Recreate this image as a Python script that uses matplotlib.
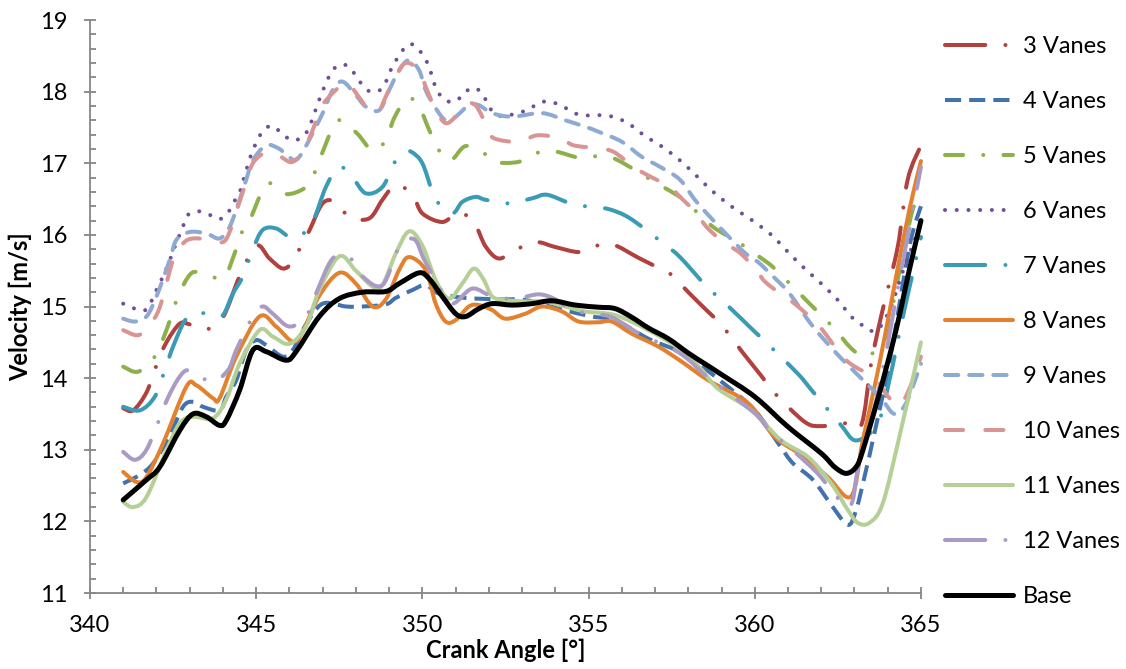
import numpy as np
import matplotlib
matplotlib.use('Agg')
import matplotlib.pyplot as plt
from matplotlib.path import Path
from matplotlib.patches import PathPatch
from matplotlib.lines import Line2D
from matplotlib.ticker import MultipleLocator

plt.rcParams['font.family'] = ['Lato', 'DejaVu Sans']

# series names
labels = ['3 Vanes', '4 Vanes', '5 Vanes', '6 Vanes', '7 Vanes', '8 Vanes',
          '9 Vanes', '10 Vanes', '11 Vanes', '12 Vanes', 'Base']

# crank angle / velocity readings, one pair per series
x3 = [341, 341.3, 341.7, 342, 342.3, 342.7, 343, 343.5, 344, 344.5, 345, 345.4, 345.8, 346.1, 346.3, 346.6,
      347, 347.4, 347.8, 348.4, 348.8, 349.2, 349.7, 350, 350.6, 351, 351.3, 351.6, 351.9, 352.3, 352.8,
      353.4, 354, 354.7, 355.1, 355.7, 356.5, 357.1, 357.5, 358, 358.5, 359, 359.7, 360.2, 360.6, 361.5,
      362, 362.7, 363.2, 363.5, 363.8, 364.3, 364.6, 365]
v3 = [13.58, 13.55, 13.8, 14.18, 14.5, 14.76, 14.75, 14.68, 14.85, 15.42, 15.85, 15.67, 15.53, 15.62, 15.8, 16.06,
      16.44, 16.46, 16.25, 16.23, 16.49, 16.7, 16.56, 16.3, 16.18, 16.3, 16.28, 16.14, 15.84, 15.67, 15.79,
      15.9, 15.83, 15.76, 15.83, 15.87, 15.68, 15.54, 15.44, 15.2, 14.97, 14.74, 14.32, 14.03, 13.79, 13.39,
      13.33, 13.37, 13.34, 14.2, 14.86, 15.83, 16.77, 17.25]

x4 = [341, 341.5, 341.9, 342.4, 342.8, 343.1, 343.4, 343.9, 344.1, 344.4, 344.7, 345, 345.3, 345.8, 346.1,
      346.5, 347, 347.7, 348.2, 348.9, 349.2, 349.7, 350.1, 350.5, 351.3, 352.3, 353.1, 354.1, 355.1, 355.8,
      356.8, 357.9, 359, 360, 360.75, 361.15, 361.75, 362.35, 362.8, 363.05, 363.35, 363.55, 364.05, 364.65, 365]
v4 = [12.53, 12.65, 12.81, 13.2, 13.6, 13.67, 13.6, 13.55, 13.74, 13.97, 14.39, 14.53, 14.46, 14.3, 14.39,
      14.75, 15.04, 15.0, 15.0, 15.03, 15.12, 15.23, 15.3, 15.18, 15.12, 15.1, 15.09, 14.97, 14.86, 14.81,
      14.55, 14.33, 13.95, 13.55, 13.06, 12.81, 12.58, 12.2, 11.95, 12.16, 12.72, 13.13, 14.21, 15.83, 16.4]

x5 = [341, 341.45, 341.95, 342.3, 342.65, 343, 343.3, 344, 344.35, 344.6, 344.8, 345.2, 345.45, 345.9, 346.45,
      346.7, 346.95, 347.3, 347.55, 348.05, 348.5, 348.9, 349.15, 349.55, 349.9, 350.2, 350.5, 350.85, 351.3,
      351.85, 352.15, 352.9, 353.55, 354.05, 354.7, 355.35, 355.85, 357.05, 357.75, 358.05, 358.75, 359.5,
      360.15, 360.55, 361.05, 361.65, 362.4, 362.85, 363.25, 363.55, 363.95, 364.3, 364.75, 365]
v5 = [14.16, 14.09, 14.3, 14.67, 15.14, 15.44, 15.48, 15.4, 15.74, 16.07, 16.2, 16.63, 16.72, 16.57, 16.65,
      16.81, 17.1, 17.49, 17.6, 17.41, 17.18, 17.32, 17.63, 17.91, 17.79, 17.47, 17.18, 17.04, 17.24,
      17.14, 17.02, 17.02, 17.16, 17.16, 17.08, 17.1, 17.05, 16.72, 16.53, 16.41, 16.11, 15.9,
      15.69, 15.55, 15.32, 15.04, 14.69, 14.44, 14.3, 14.35, 14.58, 15.37, 16.35, 16.45]

x6 = [341, 341.35, 341.7, 342, 342.3, 342.55, 342.8, 342.95, 343.25, 343.6, 343.9, 344.15, 344.3, 344.5, 344.7,
      344.9, 345.2, 345.5, 345.8, 346.1, 346.4, 346.6, 346.95, 347.25, 347.5, 347.8, 348.2, 348.45, 348.8,
      349.1, 349.5, 349.75, 350, 350.2, 350.35, 350.55, 350.8, 351.05, 351.3, 351.6, 351.85, 352, 352.25,
      352.55, 352.9, 353.25, 353.55, 353.85, 354.2, 354.5, 354.8, 355.45, 355.8, 356.1, 356.4, 356.7, 357.25,
      357.8, 358.3, 358.8, 359.35, 359.9, 360.5, 361, 361.5, 362, 362.5, 362.9, 363.2, 363.5, 363.75, 364.1,
      364.5, 365]
v6 = [15.04, 14.97, 14.96, 15.23, 15.53, 15.83, 16.12, 16.28, 16.33, 16.28, 16.22, 16.31, 16.44, 16.59, 16.9,
      17.18, 17.45, 17.52, 17.4, 17.32, 17.37, 17.51, 17.95, 18.26, 18.37, 18.34, 18.09, 18.0, 18.05,
      18.35, 18.63, 18.65, 18.52, 18.35, 18.12, 17.94, 17.86, 17.88, 18.0, 18.05, 17.93, 17.79, 17.67,
      17.67, 17.7, 17.77, 17.85, 17.86, 17.8, 17.72, 17.67, 17.67, 17.64, 17.58, 17.49, 17.38, 17.22,
      17.02, 16.8, 16.58, 16.38, 16.21, 16.0, 15.76, 15.53, 15.32, 15.09, 14.86, 14.75, 14.66, 14.7, 15.0,
      15.55, 16.15]

x7 = [341, 341.5, 341.95, 342.25, 342.5, 342.85, 343.15, 343.7, 344, 344.3, 344.6, 344.9, 345.2, 345.6, 346,
      346.3, 346.7, 347.1, 347.5, 347.9, 348.3, 348.8, 349.2, 349.5, 349.7, 350, 350.3, 350.45, 350.9, 351.2,
      351.6, 351.9, 352.6, 353.3, 353.75, 354.45, 355.05, 355.6, 356.25, 357.25, 357.75, 358.55, 359.1,
      359.95, 360.45, 361.3, 361.75, 362.55, 363.05, 363.7, 364.05, 364.5, 365]
v7 = [13.6, 13.55, 13.74, 14.11, 14.44, 14.8, 14.9, 14.9, 14.88, 15.18, 15.42, 15.8, 16.07, 16.09, 15.97,
      15.98, 16.18, 16.67, 16.95, 16.8, 16.58, 16.67, 17.04, 17.16, 17.15, 17.0, 16.6, 16.46, 16.3, 16.46,
      16.53, 16.49, 16.44, 16.51, 16.56, 16.44, 16.39, 16.36, 16.23, 15.88, 15.69, 15.28, 15.05,
      14.67, 14.45, 14.06, 13.81, 13.37, 13.13, 13.37, 13.97, 14.95, 15.97]

x8 = [341, 341.4, 341.7, 342.2, 342.9, 343.2, 343.7, 343.9, 344.4, 345.1, 345.6, 346.1, 346.4, 346.9, 347.5,
      348, 348.5, 348.9, 349.3, 349.6, 350.1, 350.4, 350.7, 351, 351.4, 351.7, 352.1, 352.5, 353.1, 353.6,
      354.2, 354.7, 355.3, 355.7, 356.3, 357.1, 357.8, 358.6, 359.8, 360.6, 361.5, 362.2, 362.9, 363.25,
      363.75, 364.25, 364.65, 365]
v8 = [12.69, 12.55, 12.62, 13.09, 13.88, 13.9, 13.72, 13.72, 14.3, 14.86, 14.72, 14.51, 14.65, 15.15, 15.47,
      15.32, 15.0, 15.1, 15.51, 15.69, 15.51, 15.04, 14.79, 14.81, 15.0, 15.02, 14.95, 14.83, 14.9, 15.0,
      14.93, 14.79, 14.78, 14.79, 14.62, 14.44, 14.23, 13.97, 13.65, 13.18, 12.9, 12.62, 12.35, 13.13,
      14.2, 15.41, 16.35, 17.03]

x9 = [341, 341.35, 341.7, 342, 342.4, 342.6, 343, 343.5, 343.9, 344.2, 344.5, 344.7, 344.9, 345.3, 345.7, 346,
      346.3, 346.95, 347.3, 347.6, 348, 348.3, 348.7, 349, 349.3, 349.6, 349.9, 350.1, 350.4, 350.7, 351,
      351.4, 351.7, 352.1, 352.7, 353.6, 354.3, 354.9, 355.3, 356, 356.6, 357.15, 357.75, 358.25, 359,
      359.7, 360.1, 360.55, 361.05, 361.7, 362.35, 362.85, 363.35, 363.8, 364.2, 364.55, 365]
v9 = [14.83, 14.79, 14.86, 15.14, 15.65, 15.93, 16.04, 16.02, 15.95, 16.11, 16.49, 16.77, 17.04, 17.25, 17.2, 17.08,
      17.09, 17.65, 18.02, 18.14, 17.95, 17.79, 17.74, 18.02, 18.3, 18.44, 18.3, 18.02, 17.77, 17.6, 17.65,
      17.81, 17.81, 17.7, 17.65, 17.7, 17.6, 17.51, 17.44, 17.3, 17.09, 16.95, 16.77, 16.46, 16.08,
      15.75, 15.62, 15.42, 15.18, 14.75, 14.4, 14.16, 13.93, 13.72, 13.5, 13.65, 14.2]

x10 = [341, 341.45, 341.8, 342.1, 342.5, 342.8, 343.1, 343.6, 344, 344.2, 344.45, 344.65, 344.9, 345.3, 345.7,
       346.1, 346.5, 346.9, 347.1, 347.7, 348.05, 348.4, 348.7, 348.9, 349.2, 349.5, 349.9, 350.1, 350.4,
       350.7, 351, 351.3, 351.6, 351.95, 352.15, 352.9, 353.45, 354.15, 354.55, 355.25, 355.75, 356.35,
       356.75, 357.45, 357.75, 358.25, 358.55, 359.05, 359.55, 360.05, 360.3, 360.85, 361.25, 361.95,
       362.75, 363.6, 364, 364.35, 364.65, 365]
v10 = [14.67, 14.6, 14.75, 14.99, 15.65, 15.88, 15.95, 15.93, 15.9, 16.04, 16.39, 16.67, 17.0, 17.15, 17.1,
       17.02, 17.25, 17.7, 17.88, 18.12, 17.95, 17.74, 17.74, 17.93, 18.21, 18.4, 18.3, 18.07, 17.74,
       17.56, 17.65, 17.81, 17.81, 17.51, 17.35, 17.3, 17.39, 17.35, 17.25, 17.21, 17.16, 16.95,
       16.84, 16.67, 16.53, 16.3, 16.11, 15.9, 15.75, 15.51, 15.35, 15.15, 15.02, 14.72,
       14.25, 14.0, 13.75, 13.62, 13.85, 14.3]

x11 = [341, 341.3, 341.7, 342.3, 342.7, 343.1, 343.7, 344.1, 344.5, 345.1, 345.5, 346, 346.5, 346.9, 347.5,
       348, 348.5, 348.8, 349.2, 349.6, 350, 350.4, 350.8, 351.2, 351.55, 351.85, 352.1, 352.5, 353.1,
       353.7, 354.3, 354.9, 355.8, 356.8, 357.8, 358.4, 358.9, 359.9, 360.8, 361.6, 362.3, 362.8, 363.1,
       363.45, 363.85, 364.35, 365]
v11 = [12.27, 12.2, 12.34, 12.99, 13.37, 13.46, 13.44, 13.7, 14.2, 14.67, 14.58, 14.48, 14.72, 15.23, 15.7,
       15.5, 15.28, 15.3, 15.74, 16.05, 15.85, 15.37, 15.11, 15.32, 15.53, 15.37, 15.14, 15.09, 15.07,
       15.07, 15.0, 14.93, 14.88, 14.67, 14.39, 14.12, 13.85, 13.55, 13.13, 12.9, 12.53, 12.16, 11.98,
       11.98, 12.25, 13.18, 14.5]

x12 = [341, 341.35, 341.7, 342.1, 342.35, 342.7, 343, 343.65, 344.15, 344.4, 344.9, 345.2, 345.5, 346, 346.5,
       346.8, 347.3, 347.8, 348.2, 348.8, 349.3, 349.75, 350.05, 350.5, 350.9, 351.5, 352.1, 352.8, 353.5,
       354, 354.5, 355.1, 355.7, 356.6, 357.4, 357.95, 358.55, 358.95, 360, 360.45, 361.15, 361.85, 362.3,
       362.75, 362.95, 363.15, 363.75, 364.35, 365]
v12 = [12.97, 12.86, 13.0, 13.44, 13.73, 14.02, 14.11, 13.95, 14.11, 14.39, 14.86, 15.0, 14.9, 14.72, 14.86,
       15.18, 15.67, 15.69, 15.42, 15.3, 15.83, 15.94, 15.66, 15.28, 15.04, 15.25, 15.14, 15.11, 15.17,
       15.1, 14.95, 14.9, 14.85, 14.6, 14.44, 14.28, 14.02, 13.88, 13.51, 13.27, 12.99, 12.69, 12.44,
       12.2, 12.3, 12.85, 13.88, 15.37, 16.95]

x_base = [341, 341.7, 342.1, 342.7, 343.1, 343.5, 343.9, 344.1, 344.5, 344.9, 345.3, 345.9, 346.2, 346.9, 347.5,
          348.2, 348.9, 349.3, 349.9, 350.2, 350.6, 351, 351.3, 351.7, 352.1, 352.7, 353.3, 353.9, 354.6,
          355.3, 355.8, 356.3, 356.8, 357.4, 358, 358.5, 359, 360, 361, 362, 362.4, 362.75, 363.05, 363.25,
          363.75, 364.25, 364.65, 365]
v_base = [12.3, 12.58, 12.76, 13.27, 13.5, 13.46, 13.34, 13.41, 13.83, 14.39, 14.37, 14.25, 14.37, 14.86, 15.11,
          15.2, 15.21, 15.32, 15.47, 15.39, 15.14, 14.9, 14.86, 14.97, 15.04, 15.02, 15.04, 15.08, 15.02,
          14.99, 14.97, 14.85, 14.7, 14.55, 14.35, 14.2, 14.05, 13.74, 13.32, 12.95, 12.76, 12.67, 12.76, 12.99,
          13.79, 14.67, 15.51, 16.2]

xs = [x3, x4, x5, x6, x7, x8, x9, x10, x11, x12, x_base]
vs = [v3, v4, v5, v6, v7, v8, v9, v10, v11, v12, v_base]

# look of each series (Excel-like colours and dash types)
colors = ['#B0413E', '#4272AE', '#8DB04A', '#6F4F98', '#3A9BB5', '#E3812F',
          '#8EAAD3', '#D99594', '#B5D097', '#AA9BC4', '#000000']
dash_long_dot = (0, (10, 5, 0.01, 5))
styles = [dash_long_dot, (0, (4, 2)), (0, (4.5, 5, 0.01, 5)), (0, (0.01, 2.9)), dash_long_dot, '-',
          (0, (3.3, 2.7)), (0, (4.5, 5.5)), '-', dash_long_dot, '-']
caps = ['round', 'butt', 'round', 'round', 'round', 'round', 'round', 'round', 'round', 'round', 'round']
widths = [2.9, 2.9, 2.9, 2.9, 2.9, 2.9, 2.9, 2.9, 2.9, 2.9, 3.6]


def smooth_path(x, y):
    # Excel style smoothed line: bezier segments through the points
    pts = np.column_stack([x, y])
    pad = np.vstack([pts[0], pts, pts[-1]])
    verts = [pts[0]]
    codes = [Path.MOVETO]
    for i in range(len(pts) - 1):
        p0, p1, p2, p3 = pad[i], pad[i + 1], pad[i + 2], pad[i + 3]
        verts += [p1 + (p2 - p0) / 6.0, p2 - (p3 - p1) / 6.0, p2]
        codes += [Path.CURVE4] * 3
    return Path(verts, codes)


fig = plt.figure(figsize=(11.26, 6.69), dpi=100)
ax = fig.add_axes([0.0799, 0.1136, 0.738, 0.8565])

handles = []
for x, v, c, ls, cap, lw, lab in zip(xs, vs, colors, styles, caps, widths, labels):
    patch = PathPatch(smooth_path(x, v), fill=False, edgecolor=c, linewidth=lw,
                      linestyle=ls, capstyle=cap, joinstyle='round', clip_on=False)
    ax.add_patch(patch)
    handles.append(Line2D([], [], color=c, linewidth=lw, linestyle=ls,
                          dash_capstyle=cap, solid_capstyle=cap, label=lab))

ax.set_xlim(340, 365)
ax.set_ylim(11, 19)
ax.xaxis.set_major_locator(MultipleLocator(5))
ax.xaxis.set_minor_locator(MultipleLocator(1))
ax.yaxis.set_major_locator(MultipleLocator(1))
ax.yaxis.set_minor_locator(MultipleLocator(0.2))

for side in ['top', 'right']:
    ax.spines[side].set_visible(False)
for side in ['left', 'bottom']:
    ax.spines[side].set_color('#868686')
    ax.spines[side].set_linewidth(1.3)

ax.tick_params(which='major', direction='inout', length=8, width=1.3, color='#868686',
               labelsize=17, pad=12)
ax.tick_params(which='minor', direction='in', length=4.5, width=1.3, color='#868686')

ax.set_xlabel('Crank Angle [°]', fontsize=17, fontweight='bold', labelpad=2)
ax.set_ylabel('Velocity [m/s]', fontsize=17, fontweight='bold', labelpad=6)

fig.legend(handles=handles, loc='upper left', bbox_to_anchor=(0.839, 0.946),
           bbox_transform=fig.transFigure, frameon=False, fontsize=17,
           handlelength=2.9, handletextpad=0.4, labelspacing=1.44,
           borderpad=0, borderaxespad=0)

fig.savefig('out.png', dpi=100)
